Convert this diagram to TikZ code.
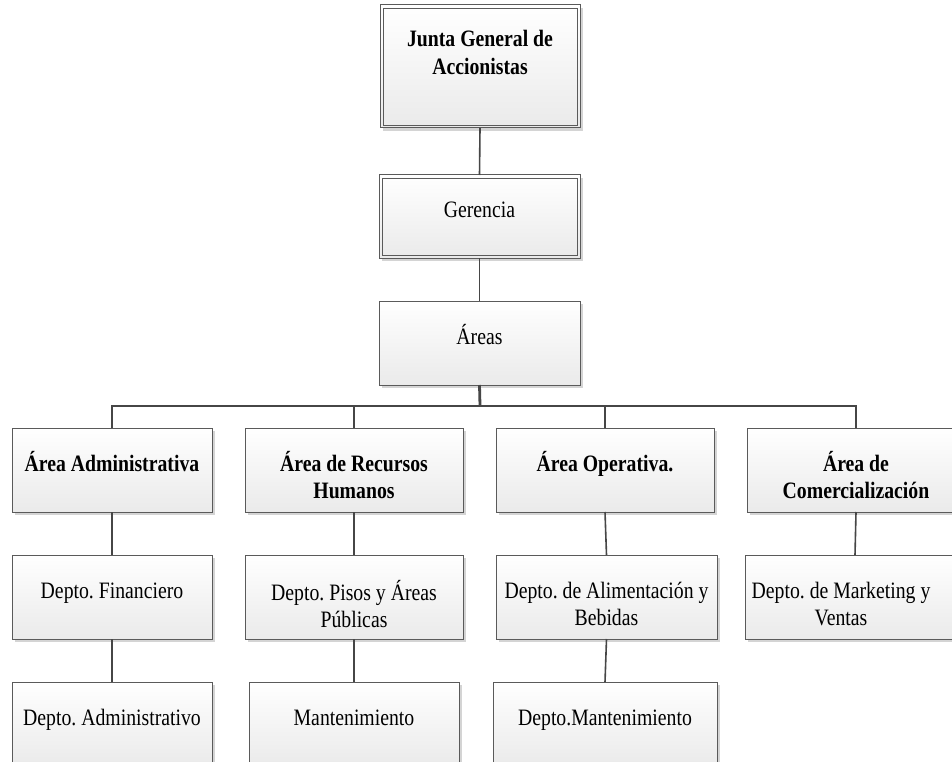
\documentclass[tikz,border=0pt]{standalone}
\usepackage{fontspec}
\setmainfont{Liberation Serif}[FakeStretch=0.84]
\usetikzlibrary{shadows,calc}
\definecolor{boxline}{HTML}{5A5A5A}
\definecolor{boxbot}{HTML}{EAEAEA}
\definecolor{shadowc}{HTML}{D4D4D4}
\definecolor{connc}{HTML}{464646}
\frenchspacing
\begin{document}
\begin{tikzpicture}[x=1pt,y=-1pt,
  box/.style={draw=boxline, line width=1pt, top color=white, bottom color=boxbot,
    drop shadow={shadow xshift=3pt, shadow yshift=-3pt, fill=shadowc, opacity=1},
    minimum height=84pt, inner sep=0pt, outer sep=0pt},
  inner/.style={draw=boxline, line width=0.9pt},
  txt/.style={anchor=base, text width=300pt, align=flush center, inner sep=0pt,
    font=\fontsize{23.5}{27.5}\selectfont\frenchspacing},
  conn/.style={draw=connc, line width=1.6pt},
  busline/.style={draw=connc, line width=2.8pt}]
\useasboundingbox (0,0) rectangle (952,762);
\clip (0,0) rectangle (952,762);
\fill[white] (0,0) rectangle (952,762);
% boxes
\node[box, minimum width=200pt, minimum height=123pt] (junta) at (480,66.5) {};
\draw[inner] ($(junta.north west)+(3,3)$) rectangle ($(junta.south east)+(-3,-3)$);
\node[box, minimum width=201pt, minimum height=83pt] (ger) at (479.5,216.5) {};
\draw[inner] ($(ger.north west)+(3,3)$) rectangle ($(ger.south east)+(-3,-3)$);
\node[box, minimum width=201pt] (areas) at (479.5,343) {};
\node[box, minimum width=200pt] (adm) at (112,470) {};
\node[box, minimum width=218pt] (rh) at (354,470) {};
\node[box, minimum width=218pt] (op) at (605,470) {};
\node[box, minimum width=218pt] (com) at (856,470) {};
\node[box, minimum width=200pt] (fin) at (112,597) {};
\node[box, minimum width=218pt] (pis) at (354,597) {};
\node[box, minimum width=221pt] (ali) at (606.5,597) {};
\node[box, minimum width=220pt] (mkt) at (855,597) {};
\node[box, minimum width=200pt] (dadm) at (112,724) {};
\node[box, minimum width=210pt] (man) at (354,724) {};
\node[box, minimum width=224pt] (dman) at (605,724) {};
% texts
\node[txt] (t-junta) at ($(junta.north)+(0,42)$) {\bfseries Junta General de\\\bfseries Accionistas};
\node[txt] (t-ger) at ($(ger.north)+(0,42)$) {Gerencia};
\node[txt] (t-areas) at ($(areas.north)+(0,43)$) {Áreas};
\node[txt] (t-adm) at ($(adm.north)+(0,43)$) {\bfseries Área Administrativa};
\node[txt] (t-rh) at ($(rh.north)+(0,43)$) {\bfseries Área de Recursos\\\bfseries Humanos};
\node[txt] (t-op) at ($(op.north)+(0,43)$) {\bfseries Área Operativa.};
\node[txt] (t-com) at ($(com.north)+(0,43)$) {\bfseries Área de\\\bfseries Comercialización};
\node[txt] (t-fin) at ($(fin.north)+(0,43)$) {Depto. Financiero};
\node[txt] (t-pis) at ($(pis.north)+(0,45)$) {Depto. Pisos y Áreas\\Públicas};
\node[txt] (t-ali) at ($(ali.north)+(0,43)$) {Depto. de Alimentación y\\Bebidas};
\node[txt] (t-mkt) at ($(mkt.north)+(-14,43)$) {Depto. de Marketing y\\Ventas};
\node[txt] (t-dadm) at ($(dadm.north)+(0,43)$) {Depto. Administrativo};
\node[txt] (t-man) at ($(man.north)+(0,43)$) {Mantenimiento};
\node[txt] (t-dman) at ($(dman.north)+(0,43)$) {Depto.Mantenimiento};
% connectors
\coordinate (bus) at (480,406);
\draw[conn] (junta.south) -- (ger.north);
\draw[conn] (ger.south) -- (areas.north);
\draw[busline] (areas.south) -- (bus);
\draw[busline, line cap=rect] (adm.north |- bus) -- (com.north |- bus);
\draw[conn] (adm.north |- bus) -- (adm.north);
\draw[conn] (rh.north |- bus) -- (rh.north);
\draw[conn] (op.north |- bus) -- (op.north);
\draw[conn] (com.north |- bus) -- (com.north);
\draw[conn] (adm.south) -- (fin.north);
\draw[conn] (rh.south) -- (pis.north);
\draw[conn] (op.south) -- (ali.north);
\draw[conn] (com.south) -- (mkt.north);
\draw[conn] (fin.south) -- (dadm.north);
\draw[conn] (pis.south) -- (man.north);
\draw[conn] (ali.south) -- (dman.north);
\end{tikzpicture}
\end{document}
